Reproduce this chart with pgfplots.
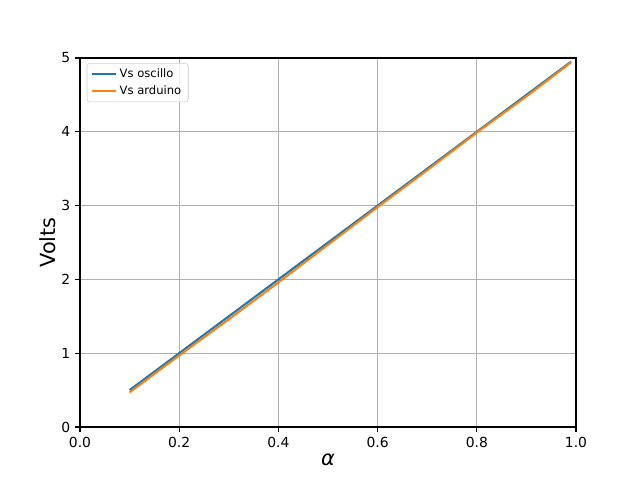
\documentclass[border=0pt]{standalone}
\usepackage{fontspec}
\setmainfont{DejaVu Sans}
\usepackage{pgfplots}
\pgfplotsset{compat=1.18}
\definecolor{tabblue}{HTML}{1F77B4}
\definecolor{taborange}{HTML}{FF7F0E}
\definecolor{gridgray}{HTML}{B0B0B0}

\begin{document}
\begin{tikzpicture}[x=1pt,y=1pt]
\path[use as bounding box] (-57.6,-38.16) rectangle (403.2,307.44);
\begin{axis}[
  at={(0,0)}, anchor=south west,
  scale only axis,
  width=357.12pt, height=265.68pt,
  xmin=0, xmax=1, ymin=0, ymax=5,
  xtick={0,0.2,0.4,0.6,0.8,1.0},
  ytick={0,1,2,3,4,5},
  xticklabel style={/pgf/number format/.cd, fixed, fixed zerofill, precision=1},
  /pgf/number format/assume math mode=true,
  tick label style={font=\fontsize{10}{12}\selectfont},
  tick align=outside, tick pos=left,
  major tick length=3.5pt,
  every tick/.style={black, line width=0.8pt},
  axis line style={line width=0.8pt},
  grid=major,
  major grid style={gridgray, line width=0.8pt},
  xlabel={\itshape α},
  ylabel={Volts},
  label style={font=\fontsize{15}{18}\selectfont},
  xlabel style={yshift=2pt},
  ylabel style={yshift=-3pt},
  legend style={font=\fontsize{8.33}{10}\selectfont, draw=black!20, rounded corners=2pt,
    at={(0.0135,0.986)}, anchor=north west, inner xsep=3pt, inner ysep=2pt, row sep=0pt,
    fill opacity=0.8, text opacity=1},
  legend cell align=left,
  legend image post style={line width=1.5pt},
]
\addplot[tabblue, line width=1.5pt] coordinates {
  (0.1,0.5) (0.2,1.0) (0.3,1.5) (0.4,2.0) (0.5,2.5) (0.6,3.0)
  (0.7,3.5) (0.8,4.0) (0.9,4.5) (0.99,4.95)};
\addlegendentry{Vs oscillo}
\addplot[taborange, line width=1.5pt] coordinates {
  (0.1,0.47) (0.2,0.97) (0.3,1.46) (0.4,1.96) (0.5,2.47) (0.6,2.98)
  (0.7,3.48) (0.8,3.99) (0.9,4.48) (0.99,4.94)};
\addlegendentry{Vs arduino}
\end{axis}
\end{tikzpicture}
\end{document}
